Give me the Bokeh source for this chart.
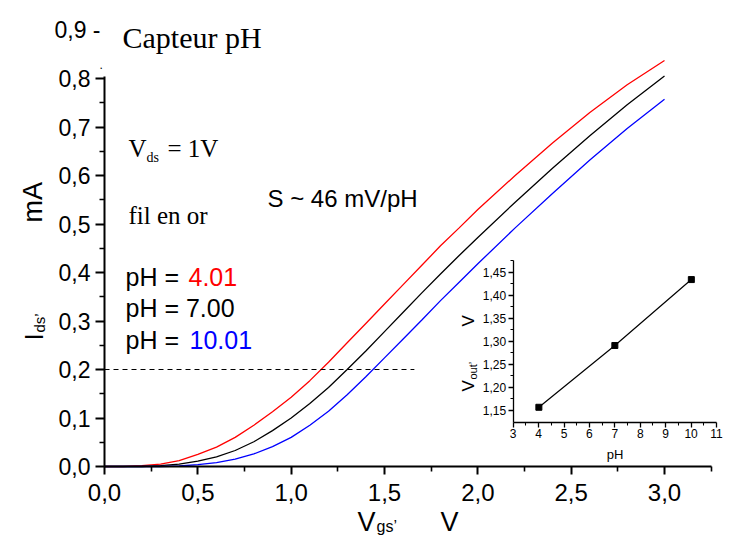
import math
from bokeh.plotting import figure
from bokeh.models import Range1d, LinearAxis, FixedTicker, CustomJSTickFormatter, Label
from bokeh.embed import file_html
from bokeh.resources import INLINE

# ---------------- data ----------------
vgs = [0.0, 0.1, 0.2, 0.3, 0.4, 0.5, 0.6, 0.7, 0.8, 0.9, 1.0, 1.1, 1.2, 1.3, 1.4,
       1.5, 1.6, 1.7, 1.8, 1.9, 2.0, 2.2, 2.4, 2.6, 2.8, 3.0]
ids_ph401 = [0.000, 0.000, 0.002, 0.005, 0.012, 0.025, 0.040, 0.060, 0.085, 0.113,
             0.143, 0.177, 0.215, 0.255, 0.295, 0.335, 0.375, 0.415, 0.455, 0.492,
             0.530, 0.600, 0.667, 0.730, 0.787, 0.837]
ids_ph700 = [0.000, 0.000, 0.000, 0.002, 0.005, 0.011, 0.020, 0.033, 0.051, 0.074,
             0.100, 0.130, 0.163, 0.200, 0.238, 0.278, 0.318, 0.358, 0.397, 0.435,
             0.472, 0.545, 0.615, 0.682, 0.746, 0.805]
ids_ph1001 = [0.000, 0.000, 0.000, 0.000, 0.001, 0.004, 0.008, 0.015, 0.026, 0.041,
              0.060, 0.085, 0.114, 0.148, 0.185, 0.224, 0.263, 0.302, 0.342, 0.380,
              0.418, 0.492, 0.563, 0.632, 0.697, 0.757]
ref_current = 0.2
ref_vgs = [0.0, 1.66]

ph_values = [4.01, 7.00, 10.01]
vout_values = [1.157, 1.291, 1.434]

main_xticks = [0.0, 0.5, 1.0, 1.5, 2.0, 2.5, 3.0]
main_xminor = [0.25, 0.75, 1.25, 1.75, 2.25, 2.75, 3.25]
main_yticks = [0.0, 0.1, 0.2, 0.3, 0.4, 0.5, 0.6, 0.7, 0.8]
main_yminor = [0.05, 0.15, 0.25, 0.35, 0.45, 0.55, 0.65, 0.75]
inset_xticks = [3, 4, 5, 6, 7, 8, 9, 10, 11]
inset_xminor = [3.5, 4.5, 5.5, 6.5, 7.5, 8.5, 9.5, 10.5]
inset_yticks = [1.15, 1.20, 1.25, 1.30, 1.35, 1.40, 1.45]
inset_yminor = [1.175, 1.225, 1.275, 1.325, 1.375, 1.425, 1.475]

# ---------------- layout (pixel geometry, frame = whole canvas) ----------------
W, H = 723, 541
X0, Y0 = 104, 466            # pixel position of data origin (0, 0)
PX_V, PX_MA = 186.67, 485.0  # px per volt / per mA
x_start, x_end = -X0 / PX_V, (W - X0) / PX_V
y_start, y_end = -(H - Y0) / PX_MA, Y0 / PX_MA

# inset placement
IX3, IX11 = 512.7, 716.0
PX_PH = (IX11 - IX3) / 8.0
IY115, PX_VO = 410.0, 461.0
ph_lo, ph_hi = 3 - IX3 / PX_PH, 11 + (W - IX11) / PX_PH
vo_lo, vo_hi = 1.15 - (H - IY115) / PX_VO, 1.15 + IY115 / PX_VO
inset_vmin, inset_vmax = 1.1246, 1.475

p = figure(width=W, height=H, x_range=Range1d(x_start, x_end), y_range=Range1d(y_start, y_end),
           output_backend="svg", toolbar_location=None,
           x_axis_location=None, y_axis_location=None,
           min_border_left=0, min_border_right=0, min_border_top=0, min_border_bottom=0)
p.outline_line_color = None
p.xgrid.visible = False
p.ygrid.visible = False
p.extra_x_ranges = {"ph": Range1d(ph_lo, ph_hi)}
p.extra_y_ranges = {"vout": Range1d(vo_lo, vo_hi)}

SANS = "Liberation Sans"
SERIF = "Liberation Serif"

def style_axis(ax, lw, maj, mnr, size, standoff):
    ax.axis_line_width = lw
    ax.axis_line_color = "black"
    ax.major_tick_line_width = lw
    ax.minor_tick_line_width = lw * 0.8
    ax.major_tick_line_color = "black"
    ax.minor_tick_line_color = "black"
    ax.major_tick_out = maj
    ax.major_tick_in = 0
    ax.minor_tick_out = mnr
    ax.minor_tick_in = 0
    ax.major_label_text_font = SANS
    ax.major_label_text_font_size = size
    ax.major_label_standoff = standoff
    ax.major_label_text_color = "black"

xa = LinearAxis(fixed_location=0, bounds=(0, 3.25),
                ticker=FixedTicker(ticks=main_xticks, minor_ticks=main_xminor),
                formatter=CustomJSTickFormatter(code="return tick.toFixed(1).replace('.', ',')"))
style_axis(xa, 2, 8, 5, "24px", 9)
p.add_layout(xa, "below")

ya = LinearAxis(fixed_location=0, bounds=(0, 0.805),
                ticker=FixedTicker(ticks=main_yticks, minor_ticks=main_yminor),
                formatter=CustomJSTickFormatter(code="return tick.toFixed(1).replace('.', ',')"))
style_axis(ya, 2, 9, 5, "23px", 5)
p.add_layout(ya, "left")

# curves
p.line(vgs, ids_ph401, line_color="#ff0000", line_width=1.3)
p.line(vgs, ids_ph700, line_color="black", line_width=1.3)
p.line(vgs, ids_ph1001, line_color="#0000ff", line_width=1.3)
p.line(ref_vgs, [ref_current, ref_current], line_color="black", line_width=1.2, line_dash="5 4")

# inset
ixa = LinearAxis(x_range_name="ph", y_range_name="vout", fixed_location=inset_vmin,
                 bounds=(3, 11), ticker=FixedTicker(ticks=inset_xticks, minor_ticks=inset_xminor),
                 axis_label="pH", axis_label_text_font=SANS, axis_label_text_font_size="13px",
                 axis_label_text_font_style="normal", axis_label_text_color="black",
                 axis_label_standoff=5)
style_axis(ixa, 1.3, 5, 3, "12px", 2)
p.add_layout(ixa, "below")

iya = LinearAxis(x_range_name="ph", y_range_name="vout", fixed_location=3,
                 bounds=(inset_vmin, inset_vmax),
                 ticker=FixedTicker(ticks=inset_yticks, minor_ticks=inset_yminor),
                 formatter=CustomJSTickFormatter(code="return tick.toFixed(2).replace('.', ',')"))
style_axis(iya, 1.3, 5, 3, "12px", 2)
p.add_layout(iya, "left")

p.line(ph_values, vout_values, x_range_name="ph", y_range_name="vout",
       line_color="black", line_width=1.2)
p.scatter(ph_values, vout_values, x_range_name="ph", y_range_name="vout",
          marker="square", size=6, color="black")

# ---------------- texts ----------------
def lab(text, px, py, size, font=SANS, color="black", angle=0.0, align="left",
        baseline="alphabetic"):
    p.add_layout(Label(x=0, y=0, x_offset=px - X0, y_offset=Y0 - py, text=text,
                       text_font=font, text_font_size=f"{size}px", text_color=color,
                       angle=angle, text_align=align, text_baseline=baseline))

p.add_layout(Label(x=0, y=0.9, x_offset=-4, text="0,9 -", text_font=SANS, text_color="black",
                   text_font_size="23px", text_align="right", text_baseline="middle"))
lab(".", 99, 64, 12)
lab("Capteur pH", 122, 37, 30, font=SERIF)
lab("V", 128, 148, 25, font=SERIF)
lab("ds", 146, 157, 14, font=SERIF)
lab("= 1V", 167, 148, 25, font=SERIF)
lab("fil en or", 128, 215, 25, font=SERIF)
lab("S ~ 46 mV/pH", 267, 198, 24)

lab("pH = ", 125, 276, 25)
lab("4.01", 188, 276, 25, color="#ff0000")
lab("pH = 7.00", 125, 307, 25)
lab("pH = ", 125, 339, 25)
lab("10.01", 189, 339, 25, color="#0000ff")

half = math.pi / 2
lab("mA", 32, 222, 27, angle=half)
lab("I", 33, 340, 26, angle=half)
lab("ds\u2019", 39, 332, 15, angle=half)

lab("V", 357, 521, 27)
lab("gs\u2019", 376, 526, 16)
lab("V", 440, 521, 27)

lab("V", 468, 391, 17, angle=half)
lab("out\u2019", 472, 379, 11, angle=half)
lab("V", 468, 326, 17, angle=half)

open("out.html", "w").write(file_html(p, INLINE))
